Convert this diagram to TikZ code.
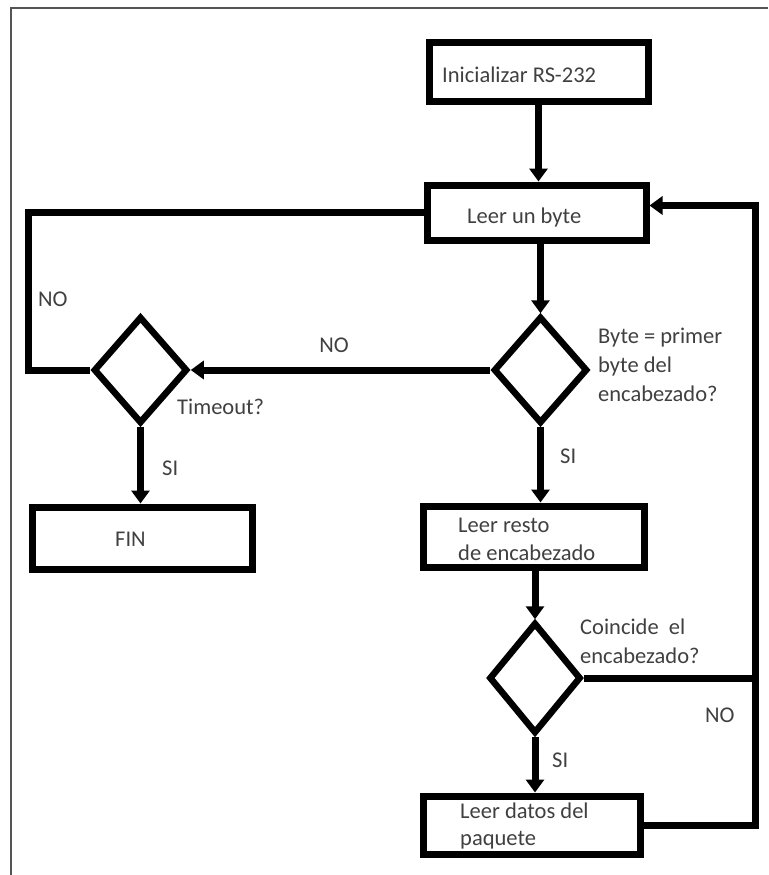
\documentclass[tikz,border=0pt]{standalone}
\usepackage{fontspec}
\setmainfont{Carlito}
\usetikzlibrary{shapes.geometric,arrows.meta}
\begin{document}
\begin{tikzpicture}[x=1pt,y=-1pt,
   caja/.style={draw,line width=7pt,inner sep=0pt},
   rombo/.style={diamond,draw,line width=6.5pt,inner sep=0pt,minimum width=94pt,minimum height=107pt},
   texto/.style={text=textcolor,font=\fontsize{22.5}{28}\selectfont,inner sep=0pt,align=left,anchor=base west},
   rotulo/.style={texto,anchor=base},
   linea/.style={line width=7pt},
   flecha/.style={linea,-{Triangle[length=13pt,width=18pt]}}]
   \definecolor{textcolor}{HTML}{404040}
   \definecolor{framecolor}{HTML}{555555}
   \useasboundingbox (0,0) rectangle (768,875);
   \draw [framecolor,line width=2pt] (11,875) -- (11,8) -- (768,8);
   % cajas y rombos
   \node [caja,minimum width=219pt,minimum height=58pt] (init) at (538.5,72) {};
   \node [caja,minimum width=219pt,minimum height=55pt] (leer) at (536.5,212.5) {};
   \node [rombo] (d1) at (540.5,370) {};
   \node [rombo] (td) at (140.5,370) {};
   \node [caja,minimum width=220pt,minimum height=62pt] (fin) at (142,538) {};
   \node [caja,minimum width=221pt,minimum height=61pt] (resto) at (533.5,536.5) {};
   \node [rombo,minimum width=92pt,minimum height=111pt] (d2) at (535,678) {};
   \node [caja,minimum width=217pt,minimum height=58pt] (datos) at (531.5,825) {};
   \coordinate (izq) at (28,370);
   \coordinate (lazo) at (755,678);
   % textos (base = ultima linea)
   \node [texto] (tinit) at (442,82) {Inicializar RS-232};
   \node [texto] (tleer) at (467,223) {Leer un byte};
   \node [texto] (tfin) at (115,546) {FIN};
   \node [texto] (tresto) at (458,560) {Leer resto\\de encabezado};
   \node [texto,font=\fontsize{22.5}{27}\selectfont] (tdatos) at (460,845) {Leer datos del\\paquete};
   \node [texto,font=\fontsize{22.5}{29}\selectfont] (q1) at (598,401) {Byte = primer\\byte del\\encabezado?};
   \node [texto,font=\fontsize{22.5}{29}\selectfont] (q2) at (580,663) {Coincide~ el\\encabezado?};
   \node [texto] (q3) at (177,414) {Timeout?};
   \node [texto] (no1) at (38,306) {NO};
   \node [rotulo] (no2) at (334,352) {NO};
   \node [texto] (no3) at (705,722) {NO};
   \node [texto] (si1) at (560,463) {SI};
   \node [texto] (si2) at (162,475) {SI};
   \node [texto] (si3) at (552,767) {SI};
   % conectores
   \draw [flecha] (init.south) -- (init.south |- leer.north);
   \draw [flecha] (leer.south -| d1.north) -- (d1.north);
   \draw [flecha] (d1.south) -- (d1.south |- resto.north);
   \draw [flecha] (resto.south -| d2.north) -- (d2.north);
   \draw [flecha] (d2.south) -- (d2.south |- datos.north);
   \draw [flecha] (d1.west) -- (td.east);
   \draw [flecha] (td.south) -- (td.south |- fin.north);
   \draw [linea] (leer.west) -| (izq) -- (td.west);
   \draw [linea] (d2.east) -- (lazo);
   \draw [flecha] (datos.east) -| (lazo) |- ([yshift=7pt]leer.east);
\end{tikzpicture}
\end{document}
